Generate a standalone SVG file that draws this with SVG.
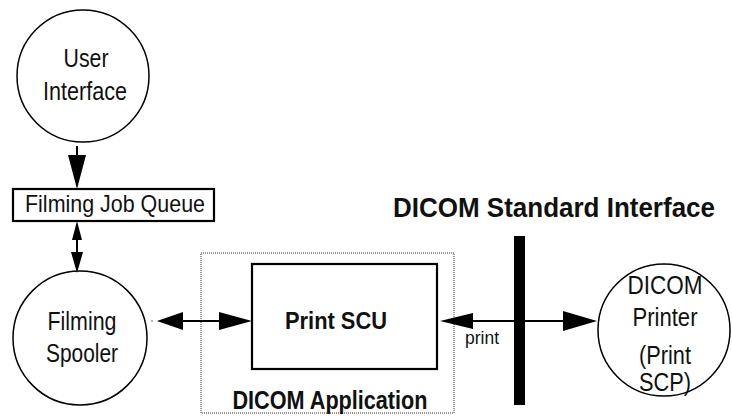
<svg xmlns="http://www.w3.org/2000/svg" width="732" height="416" viewBox="0 0 732 416">
<style>
.ln{stroke:#000;stroke-width:2;fill:none}
.nd{stroke:#000;stroke-width:1.5;fill:#fff}
.bx{stroke:#000;stroke-width:2.2;fill:#fff}
.t{font-family:"Liberation Sans",Arial,sans-serif;font-size:25px;fill:#111;text-anchor:middle}
.b{font-weight:bold}
.ah{fill:#000;stroke:none}
</style>
<rect width="732" height="416" fill="#fff"/>
<g id="dicom-application">
<rect x="201" y="253" width="253" height="160" fill="none" stroke="#777" stroke-width="1.5" stroke-dasharray="1 1"/>
<text class="t b" x="330" y="409" textLength="195" lengthAdjust="spacingAndGlyphs">DICOM Application</text>
</g>
<g id="user-interface">
<circle class="nd" cx="83" cy="76" r="66"/>
<text class="t" x="86" y="67" textLength="45" lengthAdjust="spacingAndGlyphs">User</text>
<text class="t" x="85" y="100" textLength="84" lengthAdjust="spacingAndGlyphs">Interface</text>
</g>
<g id="filming-job-queue">
<rect class="bx" x="13" y="189" width="201" height="32"/>
<text class="t" x="115" y="212" style="font-size:24px" textLength="180" lengthAdjust="spacingAndGlyphs">Filming Job Queue</text>
</g>
<g id="filming-spooler">
<circle class="nd" cx="80" cy="338" r="67"/>
<text class="t" x="82" y="330" textLength="69" lengthAdjust="spacingAndGlyphs">Filming</text>
<text class="t" x="82" y="362" textLength="72" lengthAdjust="spacingAndGlyphs">Spooler</text>
</g>
<g id="print-scu">
<rect class="bx" x="252" y="264" width="185" height="105"/>
<text class="t b" x="336" y="329" style="font-size:23px" textLength="102" lengthAdjust="spacingAndGlyphs">Print SCU</text>
</g>
<g id="dicom-printer">
<circle class="nd" cx="664" cy="330" r="66"/>
<text class="t" x="665" y="294" textLength="75" lengthAdjust="spacingAndGlyphs">DICOM</text>
<text class="t" x="665" y="326" textLength="65" lengthAdjust="spacingAndGlyphs">Printer</text>
<text class="t" x="665" y="364" textLength="52" lengthAdjust="spacingAndGlyphs">(Print</text>
<text class="t" x="665" y="391" textLength="52" lengthAdjust="spacingAndGlyphs">SCP)</text>
</g>
<g id="dicom-standard-interface">
<text class="t b" x="554" y="217" style="font-size:27px" textLength="322" lengthAdjust="spacingAndGlyphs">DICOM Standard Interface</text>
<rect x="514" y="236" width="11" height="169" fill="#000"/>
</g>
<g id="connectors">
<line class="ln" x1="77" y1="146" x2="77" y2="160"/>
<polygon class="ah" points="68,155 86,155 77,189"/>
<line class="ln" x1="77" y1="235" x2="77" y2="258"/>
<polygon class="ah" points="77,221 72,240 82,240"/>
<polygon class="ah" points="71,252 83,252 77,273"/>
<line class="ln" x1="175" y1="321" x2="230" y2="321"/>
<polygon class="ah" points="157,321 183,312 183,330"/>
<polygon class="ah" points="252,321 219,312 219,330"/>
<circle cx="152" cy="321" r="0.8" fill="#555"/>
<line class="ln" x1="465" y1="321" x2="570" y2="321"/>
<polygon class="ah" points="440,321 473,313 473,329"/>
<polygon class="ah" points="597,321 563,311 563,331"/>
<text class="t" x="482" y="344" style="font-size:19px" textLength="34" lengthAdjust="spacingAndGlyphs">print</text>
</g>
</svg>
